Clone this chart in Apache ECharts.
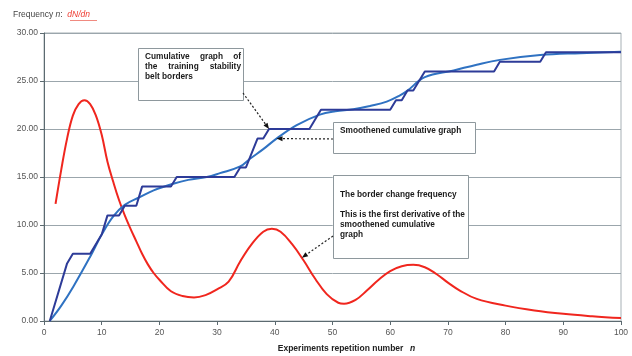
<!DOCTYPE html>
<html>
<head>
<meta charset="utf-8">
<script src="https://cdn.jsdelivr.net/npm/echarts@6/dist/echarts.min.js"></script>
<style>
  html, body { margin: 0; padding: 0; background: #fff; }
  #chart { width: 632px; height: 356px; }
</style>
</head>
<body>
<div id="chart"></div>
<script>
// Cumulative graph of the training stability belt borders (stepped)
const stepData = [
  [1, 0], [4, 6], [5, 7], [8, 7], [10, 9], [11, 11], [13, 11], [14, 12], [16, 12],
  [17, 14], [22, 14], [23, 15], [33, 15], [34, 16], [35, 16], [37, 19], [38, 19],
  [39, 20], [46, 20], [48, 22], [60, 22], [61, 23], [62, 23], [63, 24], [64, 24],
  [66, 26], [78, 26], [79, 27], [86, 27], [87, 28], [100, 28]
];

// Smoothened cumulative graph
const smoothData = [
  [1, 0], [3, 1.6], [5.1, 3.6], [8, 6.7], [10, 9], [12, 10.9], [14, 12.1], [16.6, 12.9],
  [19, 13.6], [22.4, 14.3], [25, 14.7], [28.2, 15.0], [30.5, 15.4], [34, 16.1], [35.7, 16.9],
  [38, 17.9], [40.3, 19.0], [43.8, 20.4], [47.8, 21.5], [50.5, 21.85], [53.6, 22.05],
  [56.5, 22.4], [59.4, 22.85], [61.7, 23.5], [63, 24.0], [66, 25.4], [71, 26.1], [75, 26.7],
  [79, 27.2], [86, 27.7], [93, 27.9], [100, 28.05]
];

// The border change frequency (first derivative of the smoothened graph)
const freqData = [
  [2, 12.2], [3, 15.8], [4, 19.0], [5, 21.4], [6, 22.6], [7, 23.0], [8, 22.6], [9, 21.4],
  [10, 19.4], [11, 16.6], [12, 14.5], [13, 12.6], [14, 11.0], [15, 9.6], [16, 8.3], [17, 7.0],
  [18, 5.9], [19, 5.0], [20, 4.3], [22, 3.1], [24, 2.6], [26, 2.45], [28, 2.7], [30, 3.3],
  [32, 4.1], [34, 6.2], [36, 8.0], [38, 9.3], [39.5, 9.6], [41, 9.3], [43, 8.0], [45, 6.3],
  [47, 4.4], [49, 2.8], [51, 1.9], [52, 1.8], [54, 2.2], [56, 3.2], [58, 4.3], [60, 5.2],
  [62, 5.7], [64, 5.85], [66, 5.6], [68, 4.9], [70, 4.0], [72, 3.2], [75, 2.3], [80, 1.6],
  [85, 1.1], [90, 0.75], [95, 0.5], [100, 0.3]
];

// Annotation texts and the data points their arrows point at
const noteCumulative = ['Cumulative graph of', 'the training stability', 'belt borders'];
const noteSmooth = 'Smoothened cumulative graph';
const noteFreq = ['The border change frequency', '', 'This is the first derivative of the', 'smoothened cumulative', 'graph'];
const targetCumulative = [39, 20];
const targetSmooth = [40.3, 19.0];
const targetFreq = [44.7, 6.6];

const FONT = '"Liberation Sans", Arial, sans-serif';
const chart = echarts.init(document.getElementById('chart'), null, { renderer: 'canvas' });

chart.setOption({
  animation: false,
  backgroundColor: '#ffffff',
  grid: {
    left: 44, right: 11, top: 33, bottom: 35,
    outerBoundsMode: 'none', containLabel: false,
    show: true, borderColor: '#a7b0b5', borderWidth: 1
  },
  xAxis: {
    type: 'value', min: 0, max: 100, interval: 10,
    name: '{b|Experiments repetition number}  {i|n}',
    nameLocation: 'middle', nameGap: 22,
    nameTextStyle: {
      padding: [0, 0, 0, 28],
      rich: {
        b: { fontFamily: FONT, fontWeight: 'bold', fontSize: 8.5, color: '#222' },
        i: { fontFamily: FONT, fontWeight: 'bold', fontStyle: 'italic', fontSize: 8.5, color: '#222' }
      }
    },
    axisLine: { lineStyle: { color: '#5c6a70', width: 1 } },
    axisTick: { show: true, length: 4, lineStyle: { color: '#5c6a70' } },
    axisLabel: { color: '#555', fontFamily: FONT, fontSize: 8.5, margin: 7 },
    splitLine: { show: false }
  },
  yAxis: {
    type: 'value', min: 0, max: 30, interval: 5,
    axisLine: { show: true, lineStyle: { color: '#5c6a70', width: 1 } },
    axisTick: { show: true, length: 4, lineStyle: { color: '#5c6a70' } },
    axisLabel: { color: '#555', fontFamily: FONT, fontSize: 8.5, margin: 6, formatter: v => v.toFixed(2) },
    splitLine: { show: true, lineStyle: { color: '#9ba6ac', width: 1 } }
  },
  series: [
    { type: 'line', data: freqData, smooth: 0.4, showSymbol: false, lineStyle: { color: '#f0261e', width: 2 } },
    { type: 'line', data: smoothData, smooth: 0.4, showSymbol: false, lineStyle: { color: '#2f72c2', width: 2 } },
    { type: 'line', data: stepData, showSymbol: false, lineStyle: { color: '#2d3b98', width: 2 } }
  ]
});

// measure text for justified annotation lines
const ctx = document.createElement('canvas').getContext('2d');
function textWidth(str, font) { ctx.font = font; return ctx.measureText(str).width; }

const NOTE_SIZE = 8.3;
const noteFont = 'bold ' + NOTE_SIZE + 'px ' + FONT;
const noteStyle = { fontFamily: FONT, fontWeight: 'bold', fontSize: NOTE_SIZE, fill: '#1a1a1a' };

function box(x, y, w, h) {
  return { type: 'rect', shape: { x: x + 0.5, y: y + 0.5, width: w, height: h }, style: { fill: '#fff', stroke: '#8e989d', lineWidth: 1 }, z: 10 };
}

function justifiedLine(words, left, right, y, justify) {
  const els = [];
  if (!justify || words.length === 1) {
    els.push({ type: 'text', x: left, y: y, style: Object.assign({ text: words.join(' '), textVerticalAlign: 'middle' }, noteStyle), z: 11 });
    return els;
  }
  const widths = words.map(w => textWidth(w, noteFont));
  const total = widths.reduce((a, b) => a + b, 0);
  const gap = (right - left - total) / (words.length - 1);
  let x = left;
  words.forEach((w, i) => {
    els.push({ type: 'text', x: x, y: y, style: Object.assign({ text: w, textVerticalAlign: 'middle' }, noteStyle), z: 11 });
    x += widths[i] + gap;
  });
  return els;
}

function arrow(from, to) {
  const dx = to[0] - from[0], dy = to[1] - from[1];
  const len = Math.sqrt(dx * dx + dy * dy);
  const ux = dx / len, uy = dy / len;
  const hl = 6, hw = 2.5;
  const bx = to[0] - ux * hl, by = to[1] - uy * hl;
  return [
    { type: 'line', shape: { x1: from[0], y1: from[1], x2: bx, y2: by }, style: { stroke: '#222', lineWidth: 1.2, lineDash: [2, 2] }, z: 12 },
    { type: 'polygon', shape: { points: [[to[0], to[1]], [bx - uy * hw, by + ux * hw], [bx + uy * hw, by - ux * hw]] }, style: { fill: '#111' }, z: 12 }
  ];
}

const px = p => chart.convertToPixel({ gridIndex: 0 }, p);

let g = [];
// box 1: cumulative graph
g.push(box(138, 48, 105, 52));
noteCumulative.forEach((line, i) => {
  g = g.concat(justifiedLine(line.split(' '), 145, 241, 57 + i * 10, i < noteCumulative.length - 1));
});
g = g.concat(arrow([243, 93], px(targetCumulative)));

// box 2: smoothened cumulative graph
g.push(box(333, 122, 142, 31));
g = g.concat(justifiedLine([noteSmooth], 340, 470, 131, false));
g = g.concat(arrow([333, 139], px(targetSmooth)));

// box 3: border change frequency
g.push(box(333, 175, 135, 83));
noteFreq.forEach((line, i) => {
  if (line) g = g.concat(justifiedLine([line], 340, 465, 195 + i * 10, false));
});
g = g.concat(arrow([333, 236], px(targetFreq)));

// top-left axis caption
g.push({
  type: 'text', x: 13, y: 15,
  style: {
    text: '{a|Frequency }{n|n}{a|:  }{r|dN/dn}',
    textVerticalAlign: 'middle',
    rich: {
      a: { fontFamily: FONT, fontSize: 8.5, fill: '#444' },
      n: { fontFamily: FONT, fontSize: 8.5, fontStyle: 'italic', fill: '#444' },
      r: { fontFamily: FONT, fontSize: 8.5, fontStyle: 'italic', fill: '#ee3a30' }
    }
  },
  z: 11
});
g.push({ type: 'line', shape: { x1: 70, y1: 20.5, x2: 97, y2: 20.5 }, style: { stroke: '#f08a80', lineWidth: 1 }, z: 11 });

chart.setOption({ graphic: { elements: g } });
</script>
</body>
</html>
